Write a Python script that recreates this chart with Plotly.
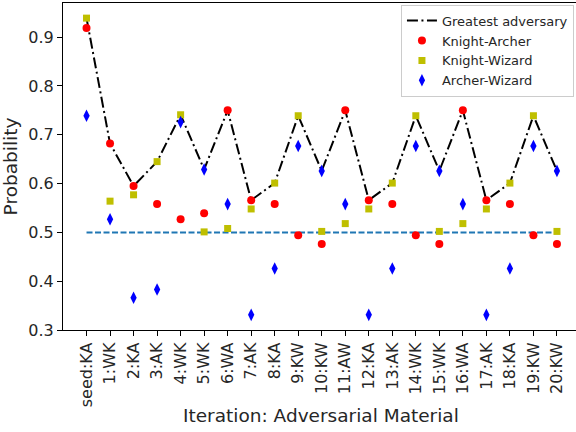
import plotly.graph_objects as go

labels = ["seed:KA", "1:WK", "2:KA", "3:AK", "4:WK", "5:WK", "6:WA", "7:AK", "8:KA",
          "9:KW", "10:KW", "11:AW", "12:KA", "13:AK", "14:WK", "15:WK", "16:WA",
          "17:AK", "18:KA", "19:KW", "20:KW"]
iterations = list(range(len(labels)))

knight_archer = [0.919, 0.682, 0.595, 0.558, 0.527, 0.539, 0.750, 0.566, 0.558, 0.494, 0.476,
                 0.750, 0.566, 0.558, 0.494, 0.476, 0.750, 0.566, 0.558, 0.494, 0.476]
knight_wizard = [0.939, 0.564, 0.577, 0.645, 0.741, 0.501, 0.508, 0.548, 0.601, 0.739, 0.502,
                 0.518, 0.548, 0.601, 0.739, 0.502, 0.518, 0.548, 0.601, 0.739, 0.502]
archer_wizard = [0.739, 0.527, 0.366, 0.383, 0.726, 0.629, 0.558, 0.331, 0.426, 0.677, 0.626,
                 0.558, 0.331, 0.426, 0.677, 0.626, 0.558, 0.331, 0.426, 0.677, 0.626]
greatest = [0.939, 0.682, 0.595, 0.645, 0.741, 0.629, 0.750, 0.566, 0.601, 0.739, 0.626,
            0.750, 0.566, 0.601, 0.739, 0.626, 0.750, 0.566, 0.601, 0.739, 0.626]
baseline = [0.5] * len(labels)

FONT = "DejaVu Sans"

fig = go.Figure()
fig.add_trace(go.Scatter(x=iterations, y=baseline, mode="lines", showlegend=False,
                         line=dict(color="#1f77b4", width=2, dash="6px,2.5px")))
fig.add_trace(go.Scatter(x=iterations, y=greatest, mode="lines", name="Greatest adversary",
                         line=dict(color="black", width=2, dash="11px,3.5px,2px,3.5px")))
fig.add_trace(go.Scatter(x=iterations, y=knight_archer, mode="markers", name="Knight-Archer",
                         marker=dict(symbol="circle", size=8, color="#ff0000", line=dict(width=0))))
fig.add_trace(go.Scatter(x=iterations, y=knight_wizard, mode="markers", name="Knight-Wizard",
                         marker=dict(symbol="square", size=7, color="#bfbf00", line=dict(width=0))))
fig.add_trace(go.Scatter(x=iterations, y=archer_wizard, mode="markers", name="Archer-Wizard",
                         marker=dict(symbol="diamond-tall", size=9, color="#0000ff", line=dict(width=0))))

fig.update_layout(
    width=576, height=432,
    margin=dict(l=63, r=0, t=3, b=102),
    paper_bgcolor="white", plot_bgcolor="white",
    font=dict(family=FONT, color="#262626", size=16),
    legend=dict(x=0.996, y=0.995, xanchor="right", yanchor="top",
                bgcolor="rgba(255,255,255,0.8)", bordercolor="#cccccc", borderwidth=1,
                font=dict(family=FONT, size=13, color="#262626"),
                tracegroupgap=0, itemwidth=30),
    xaxis=dict(range=[-1, 20.81], tickmode="array", tickvals=iterations, ticktext=labels,
               tickangle=-90, showgrid=False, zeroline=False, showline=True, linecolor="black",
               linewidth=1.2, mirror=True, ticks="outside", ticklen=5, tickcolor="black",
               tickfont=dict(family=FONT, size=16, color="#262626")),
    yaxis=dict(range=[0.3, 0.97], tickvals=[0.3, 0.4, 0.5, 0.6, 0.7, 0.8, 0.9],
               tickformat=".1f", showgrid=False, zeroline=False, showline=True,
               linecolor="black", linewidth=1.2, mirror=False, ticks="outside", ticklen=5,
               tickcolor="black", tickfont=dict(family=FONT, size=16, color="#262626"),
               title=dict(text="Probability", standoff=6,
                          font=dict(family=FONT, size=18.5, color="#262626"))),
    annotations=[dict(text="Iteration: Adversarial Material", xref="paper", yref="paper",
                      x=0.5 * (321 - 63) / 513 * 2, y=-0.26, xanchor="center", yanchor="middle",
                      showarrow=False, font=dict(family=FONT, size=18.5, color="#262626"))],
)

fig.write_html("out.html")
